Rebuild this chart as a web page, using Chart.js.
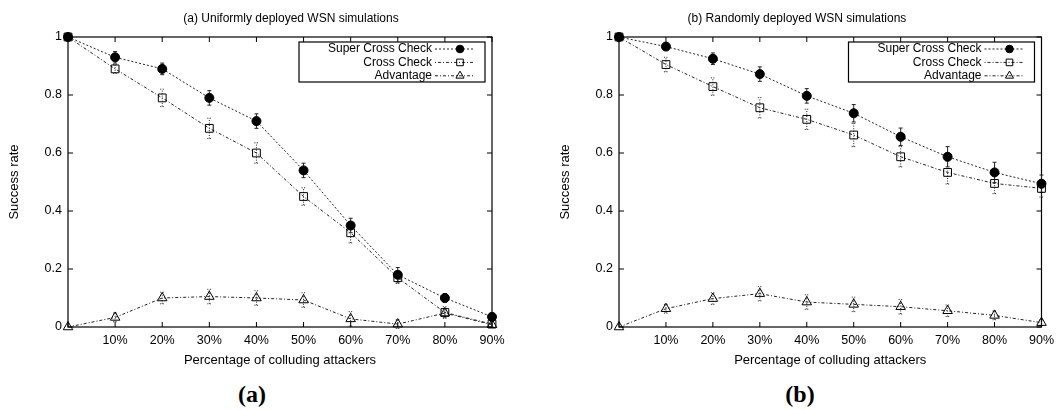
<!DOCTYPE html>
<html>
<head>
<meta charset="utf-8">
<script src="https://cdn.jsdelivr.net/npm/chart.js@4.4.1/dist/chart.umd.min.js"></script>
<style>
  body {
    margin: 0;
    width: 1060px;
    height: 410px;
    background: #fff;
    position: relative;
    overflow: hidden;
    font-family: "Liberation Sans", Arial, sans-serif;
  }
  .panel {
    position: absolute;
    top: 0;
    width: 530px;
    height: 380px;
  }
  .plot-title {
    position: absolute;
    top: 18px;
    transform: translate(-50%, -50%);
    white-space: nowrap;
    font-size: 12px;
    color: #000;
  }
  .tag {
    position: absolute;
    top: 394px;
    transform: translate(-50%, -50%);
    font-family: "Liberation Serif", "DejaVu Serif", serif;
    font-weight: bold;
    font-size: 24px;
    color: #000;
  }
</style>
</head>
<body>
<div class="panel" style="left:0"><canvas id="chartA" width="530" height="380"></canvas></div>
<div class="panel" style="left:530px"><canvas id="chartB" width="530" height="380"></canvas></div>
<div class="plot-title" style="left:291px">(a) Uniformly deployed WSN simulations</div>
<div class="plot-title" style="left:797px">(b) Randomly deployed WSN simulations</div>
<div class="tag" style="left:252px">(a)</div>
<div class="tag" style="left:800px">(b)</div>

<script>
// x values (percentage of colluding attackers)
const percents = [0, 10, 20, 30, 40, 50, 60, 70, 80, 90];
const seriesNames = ["Super Cross Check", "Cross Check", "Advantage"];

// (a) uniformly deployed
const uniformSuper = [1, 0.93, 0.89, 0.79, 0.71, 0.54, 0.35, 0.18, 0.10, 0.035];
const uniformCross = [1, 0.89, 0.79, 0.685, 0.60, 0.45, 0.325, 0.17, 0.05, 0.01];
const uniformAdv = [0, 0.033, 0.10, 0.105, 0.10, 0.093, 0.028, 0.01, 0.048, 0.008];
const uniformSuperErr = [0, 0.02, 0.02, 0.025, 0.025, 0.025, 0.025, 0.025, 0.015, 0.01];
const uniformCrossErr = [0, 0.015, 0.03, 0.035, 0.035, 0.03, 0.035, 0.02, 0.02, 0.01];
const uniformAdvErr = [0, 0.015, 0.02, 0.025, 0.025, 0.025, 0.025, 0.015, 0.015, 0.01];

// (b) randomly deployed
const randomSuper = [1, 0.967, 0.925, 0.872, 0.797, 0.737, 0.656, 0.587, 0.533, 0.494];
const randomCross = [1, 0.905, 0.829, 0.756, 0.716, 0.662, 0.587, 0.533, 0.495, 0.478];
const randomAdv = [0, 0.063, 0.098, 0.115, 0.086, 0.078, 0.07, 0.056, 0.04, 0.015];
const randomSuperErr = [0, 0.01, 0.02, 0.025, 0.025, 0.03, 0.03, 0.035, 0.035, 0.03];
const randomCrossErr = [0, 0.025, 0.03, 0.035, 0.035, 0.04, 0.035, 0.04, 0.035, 0.03];
const randomAdvErr = [0, 0.015, 0.02, 0.025, 0.025, 0.025, 0.025, 0.02, 0.015, 0.01];

Chart.defaults.font.family = '"Liberation Sans", Arial, sans-serif';
Chart.defaults.color = "#000";

const hollow = "rgba(0,0,0,0)";
const seriesStyles = [
  { pointStyle: "circle", radius: 4.5, fill: "#000", dash: [2, 2], errDash: [] },
  { pointStyle: "rect", radius: 5.5, fill: hollow, dash: [1, 2, 3, 2], errDash: [1, 1.5] },
  { pointStyle: "triangle", radius: 5.5, fill: hollow, dash: [3, 2, 1, 2], errDash: [1, 1.5] },
];

// gnuplot-like frame with inward ticks, error bars and boxed legend
const gnuplotLook = {
  id: "gnuplotLook",
  beforeDatasetsDraw(chart) {
    const ctx = chart.ctx;
    const { left, right, top, bottom } = chart.chartArea;
    const xs = chart.scales.x;
    const ys = chart.scales.y;
    ctx.save();
    ctx.strokeStyle = "#000";
    ctx.lineWidth = 1.2;
    ctx.strokeRect(left, top, right - left, bottom - top);
    ctx.lineWidth = 1;
    ctx.beginPath();
    xs.ticks.forEach((t) => {
      const x = xs.getPixelForValue(t.value);
      ctx.moveTo(x, bottom);
      ctx.lineTo(x, bottom - 5);
      ctx.moveTo(x, top);
      ctx.lineTo(x, top + 5);
    });
    ys.ticks.forEach((t) => {
      const y = ys.getPixelForValue(t.value);
      ctx.moveTo(left, y);
      ctx.lineTo(left + 5, y);
      ctx.moveTo(right, y);
      ctx.lineTo(right - 5, y);
    });
    ctx.stroke();

    // error bars
    chart.data.datasets.forEach((ds) => {
      ctx.strokeStyle = "#222";
      ctx.lineWidth = 1;
      ctx.setLineDash(ds.errDash);
      ds.data.forEach((p, i) => {
        const e = ds.errors[i];
        if (!e) return;
        const x = xs.getPixelForValue(p.x);
        const y1 = ys.getPixelForValue(p.y - e);
        const y2 = ys.getPixelForValue(p.y + e);
        ctx.beginPath();
        ctx.moveTo(x, y1);
        ctx.lineTo(x, y2);
        ctx.moveTo(x - 2, y1);
        ctx.lineTo(x + 2, y1);
        ctx.moveTo(x - 2, y2);
        ctx.lineTo(x + 2, y2);
        ctx.stroke();
      });
    });
    ctx.restore();
  },
  afterDraw(chart) {
    const ctx = chart.ctx;
    const { right, top } = chart.chartArea;
    ctx.save();
    ctx.strokeStyle = "#000";
    ctx.lineWidth = 1.2;
    ctx.fillStyle = "#fff";
    ctx.fillRect(right - 193, top + 5, 186, 40);
    ctx.strokeRect(right - 193, top + 5, 186, 40);
    ctx.font = '12px "Liberation Sans", Arial, sans-serif';
    ctx.textAlign = "right";
    ctx.textBaseline = "middle";
    chart.data.datasets.forEach((ds, i) => {
      const y = top + 12 + i * 13.4;
      const st = seriesStyles[i];
      ctx.fillStyle = "#000";
      ctx.fillText(ds.label, right - 60, y);
      ctx.strokeStyle = "#222";
      ctx.lineWidth = 1;
      ctx.setLineDash(st.dash);
      ctx.beginPath();
      ctx.moveTo(right - 57, y);
      ctx.lineTo(right - 17, y);
      ctx.stroke();
      ctx.setLineDash([]);
      ctx.strokeStyle = "#000";
      ctx.fillStyle = st.fill;
      Chart.helpers.drawPoint(ctx, {
        pointStyle: st.pointStyle,
        radius: st.radius * 0.85,
        rotation: 0,
        borderWidth: 1,
      }, right - 32, y);
    });
    ctx.restore();
  },
};

function makeChart(canvasId, values, errors, padLeft, padRight) {
  const datasets = values.map((vals, i) => {
    const st = seriesStyles[i];
    return {
      label: seriesNames[i],
      data: percents.map((x, k) => ({ x: x, y: vals[k] })),
      errors: errors[i],
      errDash: st.errDash,
      borderColor: "#222",
      borderWidth: 1,
      borderDash: st.dash,
      tension: 0,
      pointStyle: st.pointStyle,
      pointRadius: st.radius,
      pointBackgroundColor: st.fill,
      pointBorderColor: "#000",
      pointBorderWidth: 1,
      clip: false,
    };
  });

  return new Chart(document.getElementById(canvasId), {
    type: "line",
    data: { datasets: datasets },
    plugins: [gnuplotLook],
    options: {
      responsive: false,
      animation: false,
      layout: { padding: { left: padLeft, right: padRight, top: 37, bottom: 8 } },
      plugins: {
        legend: { display: false },
        tooltip: { enabled: false },
      },
      scales: {
        x: {
          type: "linear",
          min: 0,
          max: 90,
          grid: { display: false, drawTicks: false },
          border: { display: false },
          ticks: {
            stepSize: 10,
            autoSkip: false,
            maxRotation: 0,
            padding: 6,
            font: { size: 12.5 },
            callback: (v) => (v === 0 ? "" : v + "%"),
          },
          title: {
            display: true,
            text: "Percentage of colluding attackers",
            font: { size: 13 },
            padding: { top: 4, bottom: 4 },
          },
          afterFit: (s) => { s.height = 45; },
        },
        y: {
          min: 0,
          max: 1,
          grid: { display: false, drawTicks: false },
          border: { display: false },
          ticks: {
            stepSize: 0.2,
            padding: 6,
            font: { size: 12.5 },
            callback: (v) => String(Math.round(v * 10) / 10),
          },
          title: {
            display: true,
            text: "Success rate",
            font: { size: 13 },
            padding: { top: 4, bottom: 4 },
          },
          afterFit: (s) => { s.width = 65; },
        },
      },
    },
  });
}

makeChart("chartA",
  [uniformSuper, uniformCross, uniformAdv],
  [uniformSuperErr, uniformCrossErr, uniformAdvErr], 3, 38);
makeChart("chartB",
  [randomSuper, randomCross, randomAdv],
  [randomSuperErr, randomCrossErr, randomAdvErr], 24, 18);
</script>
</body>
</html>
